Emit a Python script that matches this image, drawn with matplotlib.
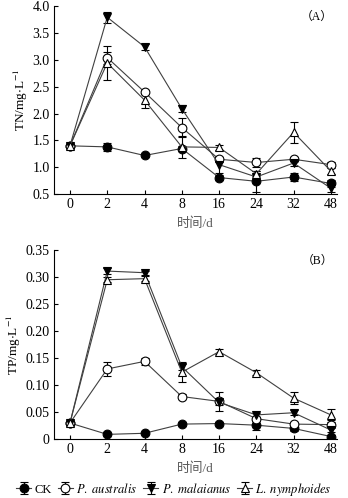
import matplotlib

matplotlib.use("Agg")
import matplotlib.pyplot as plt
import numpy as np

plt.rcParams["font.family"] = ["Liberation Serif", "Noto Sans CJK SC"]
plt.rcParams["mathtext.fontset"] = "stix"

DAYS = ["0", "2", "4", "8", "16", "24", "32", "48"]
SERIES = ["CK", "P. australis", "P. malaianus", "L. nymphoides"]

# TN (mg/L)
TN_CK = [1.40, 1.38, 1.22, 1.35, 0.81, 0.74, 0.82, 0.70]
TN_PA = [1.40, 3.04, 2.40, 1.74, 1.15, 1.09, 1.15, 1.05]
TN_PM = [1.40, 3.79, 3.24, 2.09, 1.05, 0.82, 1.08, 0.61]
TN_LN = [1.40, 2.94, 2.25, 1.38, 1.37, 0.88, 1.65, 0.93]
TN_CK_ERR = [0.03, 0.08, 0.03, 0.04, 0.05, 0.20, 0.07, 0.06]
TN_PA_ERR = [0.03, 0.11, 0.04, 0.18, 0.05, 0.09, 0.04, 0.05]
TN_PM_ERR = [0.03, 0.10, 0.05, 0.06, 0.15, 0.05, 0.05, 0.06]
TN_LN_ERR = [0.03, 0.32, 0.14, 0.20, 0.05, 0.05, 0.19, 0.05]

# TP (mg/L)
TP_CK = [0.030, 0.009, 0.011, 0.028, 0.029, 0.026, 0.020, 0.005]
TP_PA = [0.030, 0.130, 0.144, 0.079, 0.070, 0.038, 0.028, 0.027]
TP_PM = [0.030, 0.311, 0.308, 0.134, 0.068, 0.045, 0.049, 0.017]
TP_LN = [0.030, 0.295, 0.297, 0.124, 0.162, 0.123, 0.076, 0.045]
TP_CK_ERR = [0.003, 0.002, 0.002, 0.003, 0.003, 0.008, 0.004, 0.003]
TP_PA_ERR = [0.003, 0.013, 0.007, 0.004, 0.018, 0.004, 0.003, 0.004]
TP_PM_ERR = [0.003, 0.005, 0.004, 0.006, 0.005, 0.004, 0.005, 0.004]
TP_LN_ERR = [0.003, 0.005, 0.004, 0.018, 0.005, 0.005, 0.011, 0.010]

MARKERS = [("o", "black"), ("o", "white"), ("v", "black"), ("^", "white")]


def draw(ax, values, errors, ylim, yticks, yticklabels, ylabel, tag):
    x = np.arange(len(DAYS))
    for (marker, face), vals, errs, name in zip(MARKERS, values, errors, SERIES):
        ax.errorbar(x, vals, yerr=errs, color="0.25", linewidth=0.8,
                    marker=marker, markersize=6.3, markerfacecolor=face,
                    markeredgecolor="black", markeredgewidth=0.8,
                    ecolor="black", elinewidth=0.8, capsize=3, capthick=0.8,
                    label=name)
    ax.set_xlim(-0.43, 7.16)
    ax.set_ylim(*ylim)
    ax.set_xticks(x)
    ax.set_xticklabels(DAYS)
    ax.set_yticks(yticks)
    ax.set_yticklabels(yticklabels)
    ax.tick_params(direction="in", labelsize=10, length=3, width=0.8, pad=3)
    for spine in ("top", "right"):
        ax.spines[spine].set_visible(False)
    ax.set_ylabel(ylabel, fontsize=9.5, labelpad=2)
    ax.set_xlabel("时间/d", fontsize=9.5, color="0.35", labelpad=4)
    ax.text(0.93, 0.94, "（" + tag + "）", transform=ax.transAxes,
            ha="center", va="center", fontsize=8.5)


fig = plt.figure(figsize=(3.48, 4.98), dpi=100)
ax1 = fig.add_axes([0.155, 0.610, 0.813, 0.378])
ax2 = fig.add_axes([0.155, 0.118, 0.813, 0.380])

tn_ticks = np.arange(0.5, 4.01, 0.5)
draw(ax1, [TN_CK, TN_PA, TN_PM, TN_LN],
     [TN_CK_ERR, TN_PA_ERR, TN_PM_ERR, TN_LN_ERR],
     (0.5, 4.0), tn_ticks, [f"{t:.1f}" for t in tn_ticks],
     "TN/mg$\\cdot$L$^{-1}$", "A")

tp_ticks = np.arange(0, 0.351, 0.05)
draw(ax2, [TP_CK, TP_PA, TP_PM, TP_LN],
     [TP_CK_ERR, TP_PA_ERR, TP_PM_ERR, TP_LN_ERR],
     (0, 0.35), tp_ticks, ["0"] + [f"{t:.2f}" for t in tp_ticks[1:]],
     "TP/mg$\\cdot$L$^{-1}$", "B")

handles, labels = ax2.get_legend_handles_labels()
labels = ["CK", "$\\it{P.\\ australis}$", "$\\it{P.\\ malaianus}$",
          "$\\it{L.\\ nymphoides}$"]
fig.legend(handles, labels, loc="center", bbox_to_anchor=(0.5, 0.018),
           ncol=4, frameon=False, fontsize=9, handlelength=1.2,
           handletextpad=0.25, columnspacing=0.5, borderaxespad=0)

fig.savefig("out.png", dpi=100)
